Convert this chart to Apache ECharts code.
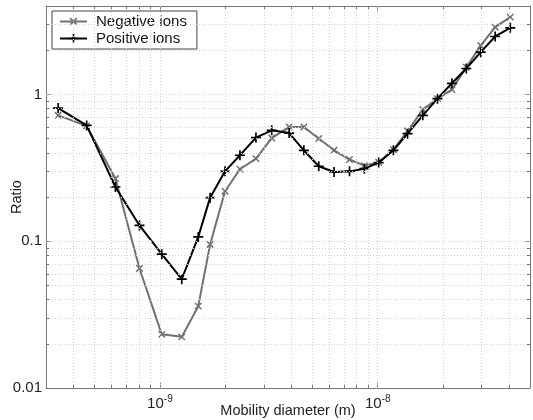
<!DOCTYPE html>
<html>
<head>
<meta charset="utf-8">
<script src="https://cdn.jsdelivr.net/npm/echarts@6/dist/echarts.min.js"></script>
<style>
html, body { margin: 0; padding: 0; background: #fff; }
#chart { width: 533px; height: 420px; }
</style>
</head>
<body>
<div id="chart"></div>
<script>
// mobility diameter (m), shared by both series
var diameters = [3.41e-10, 4.61e-10, 6.25e-10, 8.06e-10, 1.02e-9, 1.26e-9, 1.50e-9, 1.70e-9, 1.99e-9, 2.33e-9,
                 2.76e-9, 3.26e-9, 3.92e-9, 4.58e-9, 5.36e-9, 6.30e-9, 7.42e-9, 8.68e-9, 1.01e-8, 1.18e-8,
                 1.37e-8, 1.61e-8, 1.88e-8, 2.19e-8, 2.55e-8, 2.97e-8, 3.46e-8, 4.06e-8];
var negativeIons = [0.72, 0.61, 0.267, 0.0652, 0.0232, 0.0223, 0.0361, 0.095, 0.219, 0.309,
                    0.365, 0.504, 0.60, 0.60, 0.50, 0.416, 0.36, 0.327, 0.345, 0.42,
                    0.563, 0.787, 0.935, 1.077, 1.53, 2.15, 2.87, 3.36];
var positiveIons = [0.807, 0.615, 0.234, 0.128, 0.0816, 0.0551, 0.107, 0.198, 0.299, 0.385,
                    0.508, 0.569, 0.545, 0.416, 0.324, 0.296, 0.299, 0.312, 0.343, 0.416,
                    0.54, 0.72, 0.935, 1.19, 1.50, 1.94, 2.48, 2.84];

var xRange = [3e-10, 5e-8];
var yRange = [0.01, 4];
var xTickExponents = ['-9', '-8'];
var yTickLabels = ['0.01', '0.1', '1'];
var xGridValues = [4e-10, 5e-10, 6e-10, 7e-10, 8e-10, 9e-10, 1e-9, 2e-9, 3e-9, 4e-9, 5e-9, 6e-9, 7e-9, 8e-9, 9e-9,
                   1e-8, 2e-8, 3e-8, 4e-8];
var yGridValues = [0.02, 0.03, 0.04, 0.05, 0.06, 0.07, 0.08, 0.09, 0.1, 0.2, 0.3, 0.4, 0.5, 0.6, 0.7, 0.8, 0.9,
                   1, 2, 3];

var font = 'Liberation Sans, Arial, sans-serif';
var plusPath = 'path://M-1,-6L1,-6L1,6L-1,6Z M-6,-1L6,-1L6,1L-6,1Z';

function pairs(xs, ys) {
    return xs.map(function (x, i) { return [x, ys[i]]; });
}

function isDecade(v) {
    var e = Math.log10(v);
    return Math.abs(e - Math.round(e)) < 1e-6 ? Math.round(e) : null;
}

// grid lines + small inward minor ticks, all placed in data coordinates
var gridLines = [];
var tickSegs = [];
var fx = Math.pow(10, 3 / 217), fy = Math.pow(10, 3 / 147);
xGridValues.forEach(function (v) {
    gridLines.push([{ coord: [v, yRange[0]] }, { coord: [v, yRange[1]] }]);
    if (isDecade(v) === null) {
        tickSegs.push([{ coord: [v, yRange[0]] }, { coord: [v, yRange[0] * fy] }]);
        tickSegs.push([{ coord: [v, yRange[1]] }, { coord: [v, yRange[1] / fy] }]);
    }
});
yGridValues.forEach(function (v) {
    gridLines.push([{ coord: [xRange[0], v] }, { coord: [xRange[1], v] }]);
    if (isDecade(v) === null) {
        tickSegs.push([{ coord: [xRange[0], v] }, { coord: [xRange[0] * fx, v] }]);
        tickSegs.push([{ coord: [xRange[1], v] }, { coord: [xRange[1] / fx, v] }]);
    }
});

var axisCommon = {
    type: 'log',
    logBase: 10,
    axisLine: { show: true, lineStyle: { color: '#777', width: 1 } },
    axisTick: { show: true, inside: true, length: 5, lineStyle: { color: '#777' } },
    splitLine: { show: false },
    minorTick: { show: false },
    minorSplitLine: { show: false }
};

var myChart = echarts.init(document.getElementById('chart'));
var option = {
    animation: false,
    backgroundColor: '#fff',
    textStyle: { fontFamily: font },
    grid: { left: 46, top: 6, right: 3, bottom: 32, containLabel: false, outerBoundsMode: 'none' },
    legend: {
        data: ['Negative ions', 'Positive ions'],
        orient: 'vertical',
        left: 52,
        top: 11,
        padding: [3, 10, 3, 7],
        itemGap: 2,
        itemWidth: 27,
        itemHeight: 12,
        borderColor: '#444',
        borderWidth: 1,
        backgroundColor: '#fff',
        textStyle: { fontFamily: font, fontSize: 15, color: '#111', padding: [0, 0, 0, 4] }
    },
    xAxis: [
        echarts.util.merge({
            min: xRange[0],
            max: xRange[1],
            position: 'bottom',
            name: 'Mobility diameter (m)',
            nameLocation: 'middle',
            nameGap: 15,
            nameMoveOverlap: false,
            nameTextStyle: { fontFamily: font, fontSize: 14.5, color: '#222' },
            axisLabel: {
                margin: 6,
                color: '#222',
                formatter: function (v) {
                    var e = isDecade(v);
                    var i = xTickExponents.indexOf(String(e));
                    if (e === null || i < 0) return '';
                    return '{b|10}{s|' + xTickExponents[i] + '}';
                },
                rich: {
                    b: { fontFamily: font, fontSize: 15, lineHeight: 20, color: '#222' },
                    s: { fontFamily: font, fontSize: 10, lineHeight: 6, verticalAlign: 'top', color: '#222' }
                }
            }
        }, axisCommon, true),
        echarts.util.merge({
            min: xRange[0],
            max: xRange[1],
            position: 'top',
            axisLabel: { show: false }
        }, axisCommon, true)
    ],
    yAxis: [
        echarts.util.merge({
            min: yRange[0],
            max: yRange[1],
            position: 'left',
            name: 'Ratio',
            nameLocation: 'middle',
            nameGap: 22,
            nameMoveOverlap: false,
            nameTextStyle: { fontFamily: font, fontSize: 14.5, color: '#222' },
            axisLabel: {
                margin: 4,
                fontFamily: font,
                fontSize: 15,
                color: '#222',
                formatter: function (v) {
                    var e = isDecade(v);
                    if (e === null) return '';
                    return yTickLabels[e + 2] || '';
                }
            }
        }, axisCommon, true),
        echarts.util.merge({
            min: yRange[0],
            max: yRange[1],
            position: 'right',
            axisLabel: { show: false }
        }, axisCommon, true)
    ],
    series: [
        {
            name: 'grid',
            type: 'line',
            data: [],
            z: 1,
            silent: true,
            markLine: {
                silent: true,
                animation: false,
                precision: 20,
                symbol: ['none', 'none'],
                label: { show: false },
                lineStyle: { color: '#d4d4d4', type: [1, 2], width: 1 },
                emphasis: { disabled: true },
                data: gridLines
            }
        },
        {
            name: 'ticks',
            type: 'line',
            data: [],
            z: 1,
            silent: true,
            markLine: {
                silent: true,
                animation: false,
                precision: 20,
                symbol: ['none', 'none'],
                label: { show: false },
                lineStyle: { color: '#777', type: 'solid', width: 1 },
                emphasis: { disabled: true },
                data: tickSegs
            }
        },
        {
            name: 'Negative ions',
            type: 'line',
            z: 3,
            data: pairs(diameters, negativeIons),
            symbol: plusPath,
            symbolRotate: 45,
            symbolSize: 9,
            showSymbol: true,
            lineStyle: { color: '#707070', width: 2 },
            itemStyle: { color: '#707070' }
        },
        {
            name: 'Positive ions',
            type: 'line',
            z: 4,
            data: pairs(diameters, positiveIons),
            symbol: plusPath,
            symbolSize: 10,
            showSymbol: true,
            lineStyle: { color: '#000', width: 2 },
            itemStyle: { color: '#000' }
        }
    ]
};
myChart.setOption(option);
</script>
</body>
</html>
